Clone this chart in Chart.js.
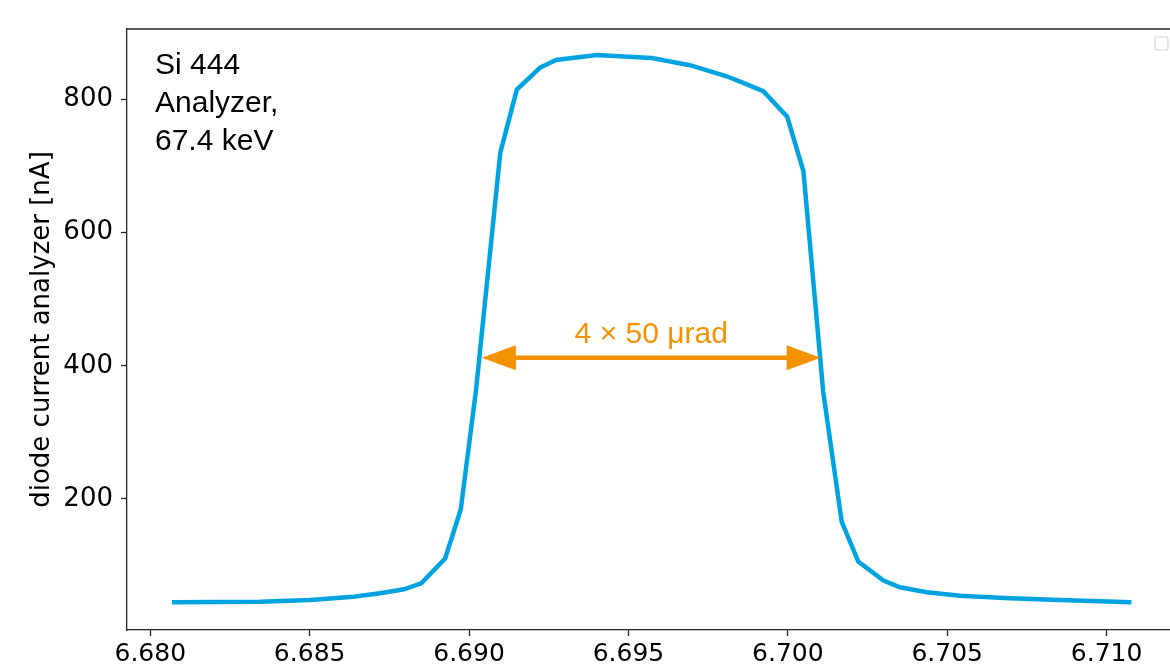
<!DOCTYPE html>
<html>
<head>
<meta charset="utf-8">
<script src="https://cdn.jsdelivr.net/npm/chart.js@4/dist/chart.umd.min.js"></script>
<style>
  html, body { margin: 0; padding: 0; background: #fff; overflow: hidden; }
  #wrap { width: 1170px; height: 668px; overflow: hidden; }
</style>
</head>
<body>
<div id="wrap"><canvas id="chart" width="1180" height="668"></canvas></div>
<script>
// Data
const angle = [6.68068, 6.68345, 6.68502, 6.68637, 6.68721, 6.68796, 6.68850, 6.68925,
  6.68974, 6.69022, 6.69098, 6.69150, 6.69223, 6.69273, 6.69401, 6.69573, 6.69693,
  6.69808, 6.69860, 6.69923, 6.69998, 6.70049, 6.70111, 6.70169, 6.70221, 6.70300,
  6.70352, 6.70436, 6.70540, 6.70697, 6.70854, 6.71078];
const current = [44.7, 45.6, 48.1, 53.1, 58.2, 64.2, 73.2, 110.5, 184.1, 363.9, 720.3,
  815, 848.1, 859.4, 866.9, 862.4, 851.6, 835, 825.1, 812.5, 774.4, 692.2, 360.9,
  165.9, 105.7, 77.4, 67.2, 59.7, 54.6, 50.7, 48.1, 44.7];
const xTicks = [6.680, 6.685, 6.690, 6.695, 6.700, 6.705, 6.710];
const yTicks = [200, 400, 600, 800];
const infoLines = ["Si 444", "Analyzer,", "67.4 keV"];
const widthLabel = "4 \u00d7 50 \u03bcrad";
const arrowFrom = 6.69040, arrowTo = 6.70103, arrowAt = 412;

const blue = "#00a3e0";
const orange = "#f39200";
const axisColor = "#222";

// Extra drawing: top spine, empty legend box, text and the width arrow
const extras = {
  id: "extras",
  afterDraw(chart) {
    const ctx = chart.ctx;
    const a = chart.chartArea;
    const xs = chart.scales.x, ys = chart.scales.y;
    ctx.save();

    // top spine
    ctx.strokeStyle = axisColor;
    ctx.lineWidth = 1.3;
    ctx.beginPath();
    ctx.moveTo(a.left, a.top);
    ctx.lineTo(a.right, a.top);
    ctx.stroke();

    // empty legend box
    ctx.strokeStyle = "#d4d4d4";
    ctx.lineWidth = 1.2;
    ctx.beginPath();
    ctx.roundRect(a.right - 23, a.top + 8, 13, 13, 2);
    ctx.stroke();

    // label text
    ctx.fillStyle = "#000";
    ctx.font = "30px 'Liberation Sans', Arial, sans-serif";
    ctx.textBaseline = "alphabetic";
    ctx.textAlign = "left";
    infoLines.forEach((t, i) => ctx.fillText(t, a.left + 28, a.top + 45 + i * 38));

    // arrow
    const x1 = xs.getPixelForValue(arrowFrom);
    const x2 = xs.getPixelForValue(arrowTo);
    const y = ys.getPixelForValue(arrowAt);
    ctx.strokeStyle = orange;
    ctx.fillStyle = orange;
    ctx.lineWidth = 4.5;
    ctx.beginPath();
    ctx.moveTo(x1 + 20, y);
    ctx.lineTo(x2 - 20, y);
    ctx.stroke();
    ctx.beginPath();
    ctx.moveTo(x1, y);
    ctx.lineTo(x1 + 34, y - 12.5);
    ctx.lineTo(x1 + 34, y + 12.5);
    ctx.closePath();
    ctx.fill();
    ctx.beginPath();
    ctx.moveTo(x2, y);
    ctx.lineTo(x2 - 34, y - 12.5);
    ctx.lineTo(x2 - 34, y + 12.5);
    ctx.closePath();
    ctx.fill();

    ctx.font = "30px 'Liberation Sans', Arial, sans-serif";
    ctx.textAlign = "center";
    ctx.fillText(widthLabel, (x1 + x2) / 2, y - 15);
    ctx.restore();
  }
};

const tickFont = { family: "'DejaVu Sans', sans-serif", size: 25 };

new Chart(document.getElementById("chart"), {
  type: "line",
  data: {
    datasets: [{
      data: angle.map((x, i) => ({ x: x, y: current[i] })),
      borderColor: blue,
      borderWidth: 4.5,
      pointRadius: 0,
      tension: 0,
      fill: false
    }]
  },
  options: {
    responsive: false,
    animation: false,
    layout: { padding: { top: 29, right: 2, left: 0, bottom: 0 } },
    plugins: { legend: { display: false }, tooltip: { enabled: false } },
    scales: {
      x: {
        type: "linear",
        min: 6.67927,
        max: 6.71224,
        afterBuildTicks: (s) => { s.ticks = xTicks.map(v => ({ value: v })); },
        afterFit: (s) => { s.height = 38; },
        ticks: {
          color: "#000",
          font: tickFont,
          padding: 3,
          maxRotation: 0,
          autoSkip: false,
          callback: (v) => Number(v).toFixed(3)
        },
        grid: { drawOnChartArea: false, tickLength: 6, tickColor: axisColor, tickWidth: 1.3 },
        border: { display: true, color: axisColor, width: 1.3 }
      },
      y: {
        min: 3,
        max: 906,
        afterBuildTicks: (s) => { s.ticks = yTicks.map(v => ({ value: v })); },
        afterFit: (s) => { s.width = 127; },
        ticks: { color: "#000", font: { family: "'DejaVu Sans', sans-serif", size: 26 }, padding: 8 },
        grid: { drawOnChartArea: false, tickLength: 6, tickColor: axisColor, tickWidth: 1.3 },
        border: { display: true, color: axisColor, width: 1.3 },
        title: {
          display: true,
          text: "diode current analyzer [nA]",
          color: "#000",
          font: { family: "'DejaVu Sans', sans-serif", size: 26 },
          padding: { top: 27, bottom: 0 }
        }
      }
    }
  },
  plugins: [extras]
});
</script>
</body>
</html>
